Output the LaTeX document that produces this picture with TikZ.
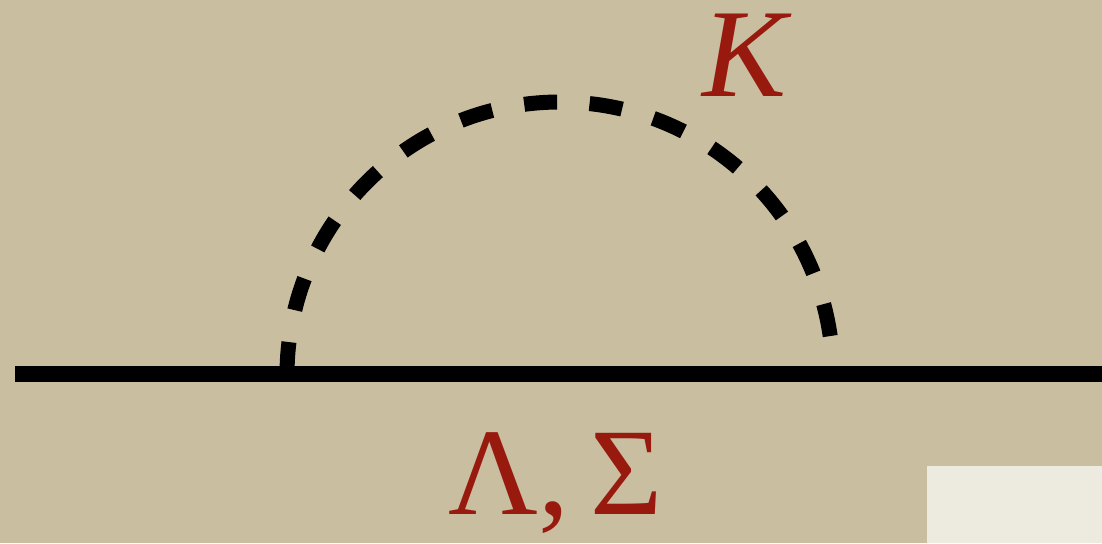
\documentclass[tikz,border=0pt]{standalone}
\usepackage{fontspec}
\setmainfont{Liberation Serif}
\definecolor{bg}{RGB}{201,191,160}
\definecolor{lbl}{RGB}{152,26,14}
\definecolor{panel}{RGB}{237,234,224}
\tikzset{
  lbltext/.style={text=lbl, inner sep=0pt, anchor=base},
  prop/.style={line width=16pt, black},
  meson/.style={line width=15pt, black, dash pattern=on 33pt off 32.5pt},
}
\begin{document}
\begin{tikzpicture}[x=1pt,y=1pt]
\fill[bg] (0,0) rectangle (1102,543);
\useasboundingbox (0,0) rectangle (1102,543);
\fill[panel] (927,0) rectangle (1102,77);
% propagator line
\coordinate (L) at (15,169);
\coordinate (R) at (1102,169);
\draw[prop] (L) -- (R);
% meson loop
\coordinate (A) at (287,168);
\draw[meson] (A) arc[start angle=180, end angle=8.2, radius=273];
% labels
\node[lbltext, text height=86pt, text depth=0pt, font=\fontsize{126}{126}\selectfont\itshape] (K) at (745,446) {K};
\node[lbltext, font=\fontsize{124}{124}\selectfont] (LS) at (556,28) {Λ,\hspace{0.17em}Σ};
\end{tikzpicture}
\end{document}
